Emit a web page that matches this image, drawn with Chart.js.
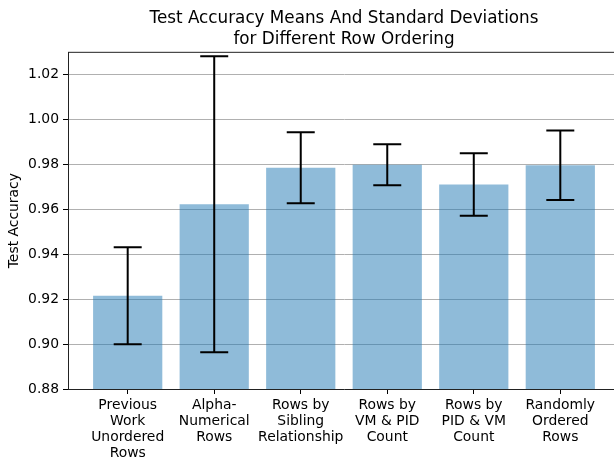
<!DOCTYPE html>
<html lang="en">
<head>
    <meta charset="UTF-8">
    <title>Test Accuracy by Row Ordering</title>
    <script src="https://cdn.jsdelivr.net/npm/chart.js"></script>
    <style>
        body { margin: 0; overflow: hidden; background: #fff; }
        .wrap { width: 620px; height: 457px; }
    </style>
</head>
<body>
    <div class="wrap">
        <canvas id="accuracyChart" width="620" height="457"></canvas>
    </div>

    <script>
        // ordering methods, mean accuracy and std over runs
        const categories = [
            ['Previous', 'Work', 'Unordered', 'Rows'],
            ['Alpha-', 'Numerical', 'Rows'],
            ['Rows by', 'Sibling', 'Relationship'],
            ['Rows by', 'VM & PID', 'Count'],
            ['Rows by', 'PID & VM', 'Count'],
            ['Randomly', 'Ordered', 'Rows']
        ];
        const means = [0.9215, 0.9623, 0.9786, 0.9799, 0.9711, 0.9797];
        const stds = [0.0216, 0.0659, 0.0158, 0.0091, 0.0139, 0.0155];
        const yTicks = [0.88, 0.90, 0.92, 0.94, 0.96, 0.98, 1.00, 1.02];

        Chart.defaults.font.family = 'DejaVu Sans';
        Chart.defaults.color = '#000';

        // black error bars with caps, plus the top frame line
        const errorBars = {
            id: 'errorBars',
            afterDraw(chart) {
                const { ctx, chartArea, scales: { x, y } } = chart;
                ctx.save();
                ctx.strokeStyle = '#222';
                ctx.lineWidth = 1;
                ctx.beginPath();
                ctx.moveTo(chartArea.left, chartArea.top);
                ctx.lineTo(chartArea.right, chartArea.top);
                ctx.stroke();

                ctx.strokeStyle = '#000';
                ctx.lineWidth = 2;
                means.forEach((m, i) => {
                    const px = x.getPixelForValue(i);
                    const top = y.getPixelForValue(m + stds[i]);
                    const bot = y.getPixelForValue(m - stds[i]);
                    ctx.beginPath();
                    ctx.moveTo(px, top);
                    ctx.lineTo(px, bot);
                    ctx.moveTo(px - 14, top);
                    ctx.lineTo(px + 14, top);
                    ctx.moveTo(px - 14, bot);
                    ctx.lineTo(px + 14, bot);
                    ctx.stroke();
                });
                ctx.restore();
            }
        };

        new Chart(document.getElementById('accuracyChart'), {
            type: 'bar',
            data: {
                datasets: [{
                    data: means.map((m, i) => ({ x: i, y: m })),
                    backgroundColor: 'rgba(31, 119, 180, 0.5)',
                    borderWidth: 0,
                    barPercentage: 0.8,
                    categoryPercentage: 1
                }]
            },
            options: {
                responsive: false,
                devicePixelRatio: 1,
                animation: false,
                events: [],
                layout: { padding: 0 },
                plugins: {
                    legend: { display: false },
                    tooltip: { enabled: false },
                    title: {
                        display: true,
                        fullSize: false,
                        text: ['Test Accuracy Means And Standard Deviations', 'for Different Row Ordering'],
                        color: '#000',
                        font: { size: 16.8, weight: 'normal', lineHeight: 1.2 },
                        padding: { top: 9, bottom: 3 }
                    }
                },
                scales: {
                    x: {
                        type: 'linear',
                        offset: false,
                        min: -0.69,
                        max: 5.69,
                        afterBuildTicks: axis => { axis.ticks = categories.map((_, i) => ({ value: i })); },
                        afterFit: scale => { scale.height = 68; },
                        ticks: {
                            callback: v => categories[v] || '',
                            autoSkip: false,
                            maxRotation: 0,
                            padding: 3,
                            font: { size: 13.9, lineHeight: 1.15 }
                        },
                        grid: { offset: false, drawOnChartArea: false, tickLength: 5, tickColor: '#000' },
                        border: { color: '#222', width: 1 }
                    },
                    y: {
                        // grid lines sit above the translucent bars
                        z: 1,
                        min: 0.88,
                        max: 1.03,
                        afterBuildTicks: axis => { axis.ticks = yTicks.map(v => ({ value: v })); },
                        afterFit: scale => { scale.width = 68; },
                        ticks: {
                            callback: v => v.toFixed(2),
                            padding: 4,
                            font: { size: 13.9 }
                        },
                        grid: { color: '#b0b0b0', lineWidth: 1, tickLength: 5, tickColor: '#000' },
                        border: { color: '#222', width: 1 },
                        title: {
                            display: true,
                            text: 'Test Accuracy',
                            font: { size: 13.9, lineHeight: 1.2 },
                            padding: { top: 6, bottom: 0 }
                        }
                    }
                }
            },
            plugins: [errorBars]
        });
    </script>
</body>
</html>
